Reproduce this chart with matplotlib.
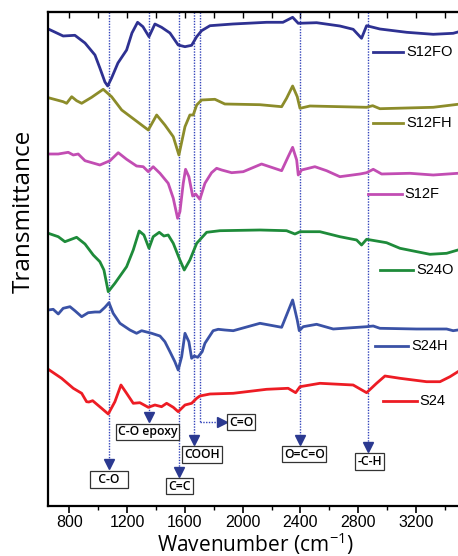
import matplotlib
matplotlib.use("Agg")
import matplotlib.pyplot as plt
from matplotlib.ticker import MultipleLocator

plt.rcParams['mathtext.fontset'] = 'custom'
plt.rcParams['mathtext.rm'] = 'Open Sans'
plt.rcParams['mathtext.default'] = 'regular'

# ---- FTIR spectra, stacked (wavenumber in cm-1, transmittance in arb. units incl. offset)
s12fo_wn = [655, 758, 839, 909, 978, 1012, 1047, 1066, 1093, 1137, 1197, 1234, 1273, 1310, 1352, 1393,
            1439, 1497, 1554, 1601, 1647, 1682, 1716, 1774, 1933, 2166, 2279, 2346, 2385, 2512, 2673,
            2765, 2823, 2858, 2950, 3135, 3319, 3457, 3490]
s12fo_t = [476.5, 469.5, 470.2, 462.5, 450.5, 437.5, 423.5, 419.5, 427.5, 442.5, 455.5, 472.5, 483.2,
           478.8, 468.8, 481.5, 478.2, 472.5, 460.5, 458.8, 460.2, 468.8, 474.8, 479.8, 481.5, 483.2,
           483.2, 488.2, 482.2, 482.8, 479.5, 476.2, 467.2, 479.8, 476.5, 473.2, 471.2, 472.2, 473.5]

s12fh_wn = [655, 758, 782, 817, 851, 886, 955, 1035, 1093, 1163, 1255, 1347, 1405, 1462, 1520, 1559,
            1601, 1635, 1658, 1682, 1716, 1808, 1877, 2120, 2270, 2304, 2346, 2378, 2397, 2466, 2858,
            2900, 2950, 3319, 3490]
s12fh_t = [407.8, 403.8, 402.2, 408.8, 404.8, 402.2, 408.2, 416.2, 408.8, 395.5, 385.5, 375.5, 390.5,
           380.5, 368.8, 350.5, 378.8, 390.5, 390.5, 400.5, 405.5, 406.2, 401.5, 400.8, 398.8, 407.2,
           419.5, 408.8, 397.2, 399.5, 398.2, 399.8, 396.8, 398.2, 401.2]

s12f_wn = [655, 724, 793, 828, 862, 909, 1012, 1082, 1139, 1197, 1266, 1312, 1347, 1381, 1428, 1485,
           1520, 1550, 1566, 1589, 1605, 1628, 1654, 1675, 1704, 1739, 1785, 1820, 1855, 1924, 2004,
           2131, 2270, 2315, 2346, 2374, 2385, 2408, 2500, 2581, 2673, 2812, 2858, 2904, 2962, 3158,
           3319, 3490]
s12f_t = [351.5, 351.5, 353.2, 350.5, 351.5, 344.8, 340.5, 344.8, 352.8, 346.2, 339.5, 338.8, 333.8,
          338.8, 332.2, 322.2, 307.2, 287.2, 293.8, 322.2, 336.2, 328.8, 309.5, 311.5, 306.2, 322.2,
          332.8, 337.2, 335.5, 332.8, 333.8, 341.5, 334.8, 348.8, 358.2, 345.5, 330.5, 335.5, 338.8,
          334.8, 328.8, 331.5, 332.8, 336.2, 331.5, 332.2, 330.5, 332.2]

s24o_wn = [655, 724, 770, 851, 909, 966, 1012, 1040, 1070, 1116, 1197, 1243, 1284, 1317, 1352, 1381,
           1423, 1455, 1485, 1520, 1561, 1596, 1635, 1682, 1751, 1843, 2120, 2304, 2362, 2397, 2535,
           2673, 2789, 2823, 2858, 2996, 3089, 3296, 3412, 3490]
s24o_t = [272.2, 268.8, 263.8, 268.2, 261.5, 250.5, 243.8, 235.5, 213.8, 222.2, 238.8, 255.5, 274.5,
          270.5, 257.2, 268.8, 273.2, 269.5, 270.5, 262.2, 247.2, 235.5, 245.5, 262.2, 273.2, 274.8,
          275.5, 274.8, 271.5, 273.8, 273.8, 268.8, 265.5, 260.5, 266.2, 262.8, 257.2, 251.2, 252.2,
          255.5]

s24h_wn = [655, 689, 724, 758, 805, 839, 886, 931, 978, 1012, 1047, 1075, 1104, 1151, 1220, 1266, 1301,
           1370, 1428, 1462, 1497, 1531, 1554, 1578, 1601, 1628, 1647, 1665, 1689, 1720, 1739, 1796,
           1831, 1877, 1935, 2120, 2270, 2309, 2346, 2378, 2392, 2419, 2512, 2627, 2858, 2904, 2950,
           3204, 3412, 3457, 3490]
s24h_t = [195.5, 196.2, 191.5, 197.2, 198.8, 194.8, 188.8, 192.8, 193.5, 193.5, 198.2, 202.8, 192.2,
          182.2, 175.5, 172.2, 174.8, 172.2, 169.5, 163.8, 153.8, 143.8, 135.5, 148.8, 172.2, 163.8,
          147.2, 149.5, 148.2, 153.8, 162.2, 174.8, 176.2, 175.5, 174.8, 182.2, 178.2, 192.2, 205.5,
          185.5, 174.8, 178.8, 181.2, 176.5, 178.8, 179.5, 177.2, 176.5, 176.5, 174.8, 175.5]

s24_wn = [655, 747, 828, 886, 920, 936, 962, 1024, 1070, 1116, 1158, 1197, 1243, 1289, 1347, 1393, 1439,
          1474, 1520, 1554, 1601, 1647, 1682, 1704, 1774, 1935, 2166, 2315, 2367, 2397, 2535, 2765,
          2858, 2927, 2985, 3089, 3273, 3366, 3435, 3490]
s24_t = [136.2, 127.2, 117.2, 112.2, 103.8, 103.5, 104.8, 97.2, 91.5, 103.8, 120.5, 112.2, 102.2, 102.8,
         98.2, 100.5, 98.8, 102.2, 98.2, 93.8, 100.5, 102.2, 107.2, 109.5, 111.5, 112.2, 116.2, 117.2,
         112.8, 118.8, 122.2, 120.5, 112.8, 122.2, 129.5, 127.2, 123.8, 123.8, 128.8, 133.8]

names = ["S12FO", "S12FH", "S12F", "S24O", "S24H", "S24"]
colors = ["#2E3192", "#8C8C2A", "#C24DB3", "#1E8B3A", "#3A52A6", "#ED1C24"]
spectra = [(s12fo_wn, s12fo_t), (s12fh_wn, s12fh_t), (s12f_wn, s12f_t),
           (s24o_wn, s24o_t), (s24h_wn, s24h_t), (s24_wn, s24_t)]

# band assignments
band_wn = [1075, 1352, 1559, 1664, 1706, 2397, 2865]
band_labels = ["C-O", "C-O epoxy", "C=C", "COOH", "C=O", "O=C=O", "-C-H"]

# layout: arrow tip heights, label box centres, legend key positions
tip_y = [41.5, 88.8, 33.5, 65.5, 83.8, 66, 58.8]
box_xy = [(1075, 26), (1341, 73.5), (1563, 19.5), (1718, 51), (1990, 83.5), (2426, 51.5), (2879, 44.2)]
key_pos = [(2901, 3109, 453.8), (2901, 3109, 382.8), (2867, 3100, 311.5),
           (2950, 3178, 235.5), (2915, 3144, 159.8), (2971, 3204, 104.8)]

fig = plt.figure(figsize=(4.58, 5.56), dpi=100)
ax = fig.add_axes([48 / 458, 50.5 / 556, 415.7 / 458, 493.5 / 556])
ax.set_xlim(653, 3530)
ax.set_ylim(0, 493.5)

line_col = "#3344BB"
arrow_col = "#2B3990"

# dotted guide lines + arrow heads
for i, wn in enumerate(band_wn):
    if band_labels[i] == "C=O":
        ax.plot([wn, wn], [493.5, tip_y[i]], color=line_col, lw=1.0, ls=(0, (1, 1)), zorder=1)
        ax.plot([wn, 1848], [tip_y[i], tip_y[i]], color=line_col, lw=1.0, ls=(0, (1, 1)), zorder=1)
        ax.plot(1860, tip_y[i], marker=">", ms=7.5, color=arrow_col, zorder=3)
    else:
        ax.plot([wn, wn], [493.5, tip_y[i]], color=line_col, lw=1.0, ls=(0, (1, 1)), zorder=1)
        ax.plot(wn, tip_y[i], marker="v", ms=7.5, color=arrow_col, zorder=3)
    ax.text(box_xy[i][0], box_xy[i][1], band_labels[i] if band_labels[i] != "C-O" else "  C-O  ",
            ha="center", va="center", fontsize=8.8, family="Open Sans", weight="semibold",
            bbox=dict(boxstyle="square,pad=0.15", fc="white", ec="#333333", lw=0.9), zorder=4)

# spectra
for (wn, t), c in zip(spectra, colors):
    ax.plot(wn, t, color=c, lw=2.0, zorder=2)

# hand-placed legend keys
for (x0, x1, y), c, n in zip(key_pos, colors, names):
    ax.plot([x0, x1], [y, y], color=c, lw=2.0)
    ax.text(x1 + 22, y, n, ha="left", va="center", fontsize=10.5, family="Liberation Sans")

ax.set_xticks(range(800, 3400, 400))
ax.xaxis.set_minor_locator(MultipleLocator(200))
ax.tick_params(axis="x", which="major", direction="out", length=5, width=1.2, labelsize=11.5, pad=2)
ax.tick_params(axis="x", which="minor", direction="out", length=3, width=1.0)
for lab in ax.get_xticklabels():
    lab.set_family("Liberation Sans")
ax.set_yticks([])

sec = ax.secondary_xaxis("top")
sec.set_xticks(range(800, 3600, 200))
sec.set_xticklabels([])
sec.tick_params(direction="in", length=4, width=1.0)
sec.spines["top"].set_linewidth(1.5)

for s in ["left", "bottom", "top"]:
    ax.spines[s].set_linewidth(1.6)
ax.spines["right"].set_visible(False)

ax.set_xlabel("Wavenumber (cm$^{-1}$)", fontsize=15, family="Open Sans")
ax.xaxis.set_label_coords(0.5, -0.05)
ax.set_ylabel("Transmittance", fontsize=17.5, family="Open Sans")
ax.yaxis.set_label_coords(-0.03, 0.595)

fig.savefig("out.png", dpi=100)
